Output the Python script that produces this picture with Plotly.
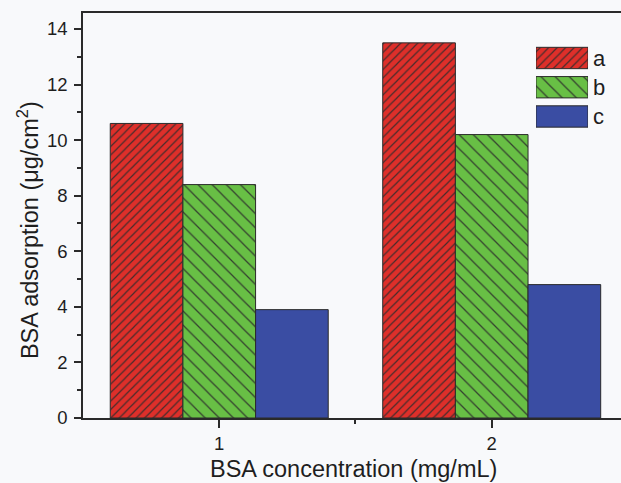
import plotly.graph_objects as go

# ---- data ----
concentrations = [1, 2]
tick_labels = ["1", "2"]
series_names = ["a", "b", "c"]
adsorption_a = [10.6, 13.5]
adsorption_b = [8.4, 10.2]
adsorption_c = [3.9, 4.8]
legend_fill = 1

# ---- styles ----
COLORS = ["#de2f2a", "#68bf45", "#3a4da3"]
PAT_SHAPE = ["/", "\\", ""]
PAT_SIZE = [6, 10, 8]
PAT_SOLID = [0.2, 0.13, 0.2]
EDGE = "#2b2b2b"
BG = "#f8f9fb"
FONT = "Liberation Sans, Arial, sans-serif"
TXT = "#1e1e1e"
AX = "#2a2a2a"


def marker_for(i):
    return dict(color=COLORS[i], line=dict(color=EDGE, width=1),
                pattern=dict(fgcolor=EDGE, fgopacity=0.85, fillmode="overlay",
                             shape=PAT_SHAPE[i], size=PAT_SIZE[i], solidity=PAT_SOLID[i]))


fig = go.Figure()
for i, (name, vals) in enumerate(zip(series_names, [adsorption_a, adsorption_b, adsorption_c])):
    fig.add_trace(go.Bar(
        x=concentrations, y=vals, name=name, showlegend=False,
        marker=marker_for(i), hoverinfo="x+y+name",
    ))

# legend swatches drawn as a small horizontal bar chart
for i, name in enumerate(series_names):
    fig.add_trace(go.Bar(
        y=[name], x=[legend_fill], orientation="h", width=0.73, offsetgroup="legend",
        xaxis="x2", yaxis="y2", showlegend=False, hoverinfo="skip",
        marker=marker_for(i),
    ))

fig.update_layout(
    width=621, height=483,
    margin=dict(l=83, r=0, t=13, b=65),
    paper_bgcolor=BG, plot_bgcolor=BG,
    barmode="group", bargap=0.2, bargroupgap=0,
    font=dict(family=FONT, color=TXT, size=18),
    xaxis=dict(
        range=[0.5, 2.4745], tickmode="array", tickvals=concentrations, ticktext=tick_labels,
        ticks="outside", ticklen=8, tickwidth=1.5, tickcolor=AX,
        showline=True, linecolor=AX, linewidth=1.5, mirror=True,
        showgrid=False, zeroline=False, tickfont=dict(size=18.5, color=TXT),
        minor=dict(tickmode="array", tickvals=[1.5], ticks="outside", ticklen=4,
                   tickwidth=1.5, tickcolor=AX, showgrid=False),
    ),
    yaxis=dict(
        range=[0, 14.575], tickmode="linear", tick0=0, dtick=2,
        ticks="outside", ticklen=7, tickwidth=1.5, tickcolor=AX,
        showline=True, linecolor=AX, linewidth=1.5, mirror=False,
        showgrid=False, zeroline=False, tickfont=dict(size=18.5, color=TXT), ticklabelstandoff=3,
        minor=dict(dtick=1, ticks="outside", ticklen=4, tickwidth=1.5,
                   tickcolor=AX, showgrid=False),
    ),
    yaxis3=dict(
        overlaying="y", anchor="x", side="right", range=[0, 14.575],
        tickmode="linear", tick0=0, dtick=2, ticks="inside", ticklen=5, tickwidth=1.2,
        tickcolor="#555", showticklabels=False, showline=False, showgrid=False,
        zeroline=False,
    ),
    xaxis2=dict(domain=[0.842, 0.9387], range=[0, 1], anchor="y2", visible=False,
                fixedrange=True),
    yaxis2=dict(domain=[0.7084, 0.925], anchor="x2", side="right",
                categoryorder="array", categoryarray=["c", "b", "a"],
                ticks="", showline=False, showgrid=False, zeroline=False,
                tickfont=dict(size=22, color=TXT), ticklabelstandoff=4, fixedrange=True),
    annotations=[
        dict(text="BSA adsorption (μg/cm<sup>2</sup>)", xref="paper", yref="paper",
             x=-0.1022, y=0.464, textangle=-90, showarrow=False,
             xanchor="center", yanchor="middle", font=dict(size=23.5, color=TXT)),
        dict(text="BSA concentration (mg/mL)", xref="paper", yref="paper",
             x=0.5037, y=-0.126, showarrow=False,
             xanchor="center", yanchor="middle", font=dict(size=23.5, color=TXT)),
    ],
)

fig.write_html("out.html")
